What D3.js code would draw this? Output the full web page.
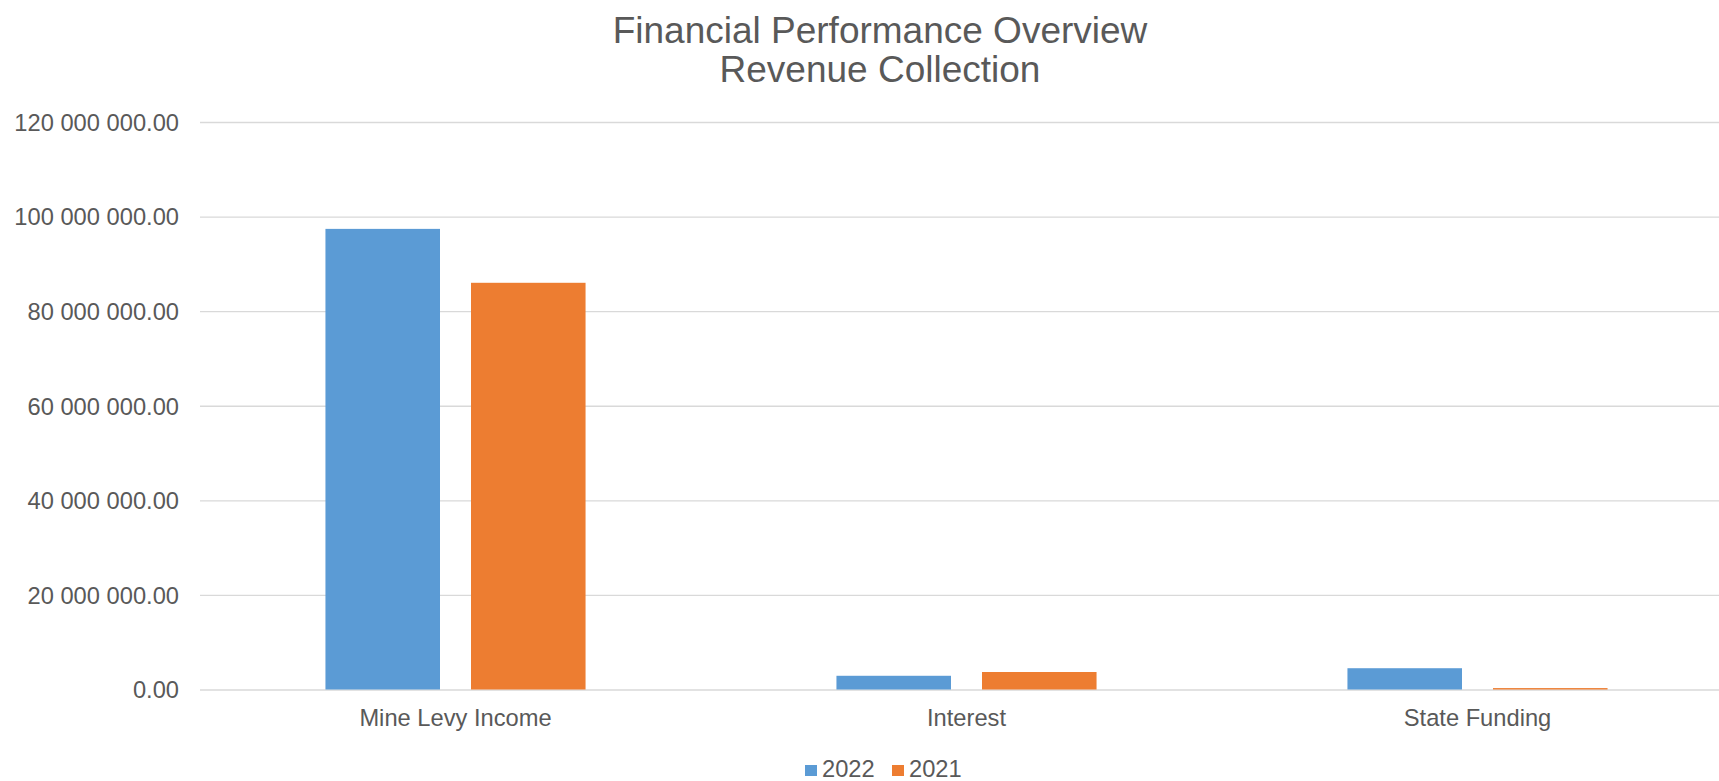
<!DOCTYPE html>
<html>
<head>
<meta charset="utf-8">
<script src="https://cdn.jsdelivr.net/npm/d3@7"></script>
<style>
  html, body { margin: 0; padding: 0; background: #fff; }
  svg { display: block; font-family: 'Liberation Sans', Arial, sans-serif; }
</style>
</head>
<body>
<svg id="chart"></svg>
<script>
const categories = ['Mine Levy Income', 'Interest', 'State Funding']
const seriesNames = ['2022', '2021']
const values2022 = [97400000, 2900000, 4500000]
const values2021 = [86000000, 3700000, 300000]
const yTicks = [0, 20000000, 40000000, 60000000, 80000000, 100000000, 120000000]
const titleLines = ['Financial Performance Overview', 'Revenue Collection']

const colors = { '2022': '#5B9BD5', '2021': '#ED7D31' }
const textColor = '#595959'
const gridColor = '#D9D9D9'

const width = 1719
const height = 781
const margin = { top: 122, right: -14, bottom: 91.5, left: 200 }

const svg = d3.select('#chart').attr('width', width).attr('height', height)

// tabular rows built from the arrays above
const rows = categories.map((c, i) => ({ category: c, '2022': values2022[i], '2021': values2021[i] }))

const x0 = d3.scaleBand()
  .domain(categories)
  .range([margin.left, width - margin.right])
  .paddingInner(0)
  .paddingOuter(0)

// group of two bars with a gap between them
const groupWidth = x0.bandwidth() * 0.509
const x1 = d3.scaleBand()
  .domain(seriesNames)
  .range([0, groupWidth])
  .paddingInner(0.213)

const y = d3.scaleLinear()
  .domain([0, 120000000])
  .range([height - margin.bottom, margin.top])

const fmt = (v) => {
  const s = d3.format(',.2f')(v)
  return s.replace(/,/g, ' ')
}

// gridlines + y labels
const yAxis = svg.append('g')
  .attr('transform', `translate(${margin.left},0)`)
  .call(d3.axisLeft(y).tickValues(yTicks).tickSize(-(width - margin.right - margin.left)).tickFormat(fmt).tickPadding(21))

yAxis.select('.domain').remove()
yAxis.selectAll('.tick line').attr('stroke', gridColor).attr('stroke-width', 1.3)
yAxis.selectAll('.tick text')
  .attr('fill', textColor)
  .style('font-size', '23.7px')
  .attr('dy', '0.35em')

// bars
const groups = svg.append('g')
  .selectAll('g')
  .data(rows)
  .enter()
  .append('g')
  .attr('transform', (d) => `translate(${x0(d.category) + (x0.bandwidth() - groupWidth) / 2},0)`)

groups.selectAll('rect')
  .data((d) => seriesNames.map((s) => ({ key: s, value: d[s] })))
  .enter()
  .append('rect')
  .attr('x', (d) => x1(d.key))
  .attr('width', x1.bandwidth())
  .attr('y', (d) => y(d.value))
  .attr('height', (d) => y(0) - y(d.value))
  .attr('fill', (d) => colors[d.key])

// category labels
const xAxis = svg.append('g')
  .attr('transform', `translate(0,${y(0)})`)
  .call(d3.axisBottom(x0).tickSize(0).tickPadding(20))

xAxis.select('.domain').remove()
xAxis.selectAll('.tick text')
  .attr('fill', textColor)
  .style('font-size', '23.7px')
  .attr('dy', '0.71em')

// title
svg.append('g')
  .selectAll('text')
  .data(titleLines)
  .enter()
  .append('text')
  .attr('x', 880)
  .attr('y', (d, i) => 43 + i * 39)
  .attr('text-anchor', 'middle')
  .attr('fill', textColor)
  .style('font-size', '37px')
  .text((d) => d)

// legend
const legendX = [805, 892]
const legend = svg.append('g')
  .selectAll('g')
  .data(seriesNames)
  .enter()
  .append('g')
  .attr('transform', (d, i) => `translate(${legendX[i]},765)`)

legend.append('rect')
  .attr('width', 12)
  .attr('height', 11)
  .attr('fill', (d) => colors[d])

legend.append('text')
  .attr('x', 17)
  .attr('y', 11.5)
  .attr('fill', textColor)
  .style('font-size', '23.7px')
  .text((d) => d)
</script>
</body>
</html>
